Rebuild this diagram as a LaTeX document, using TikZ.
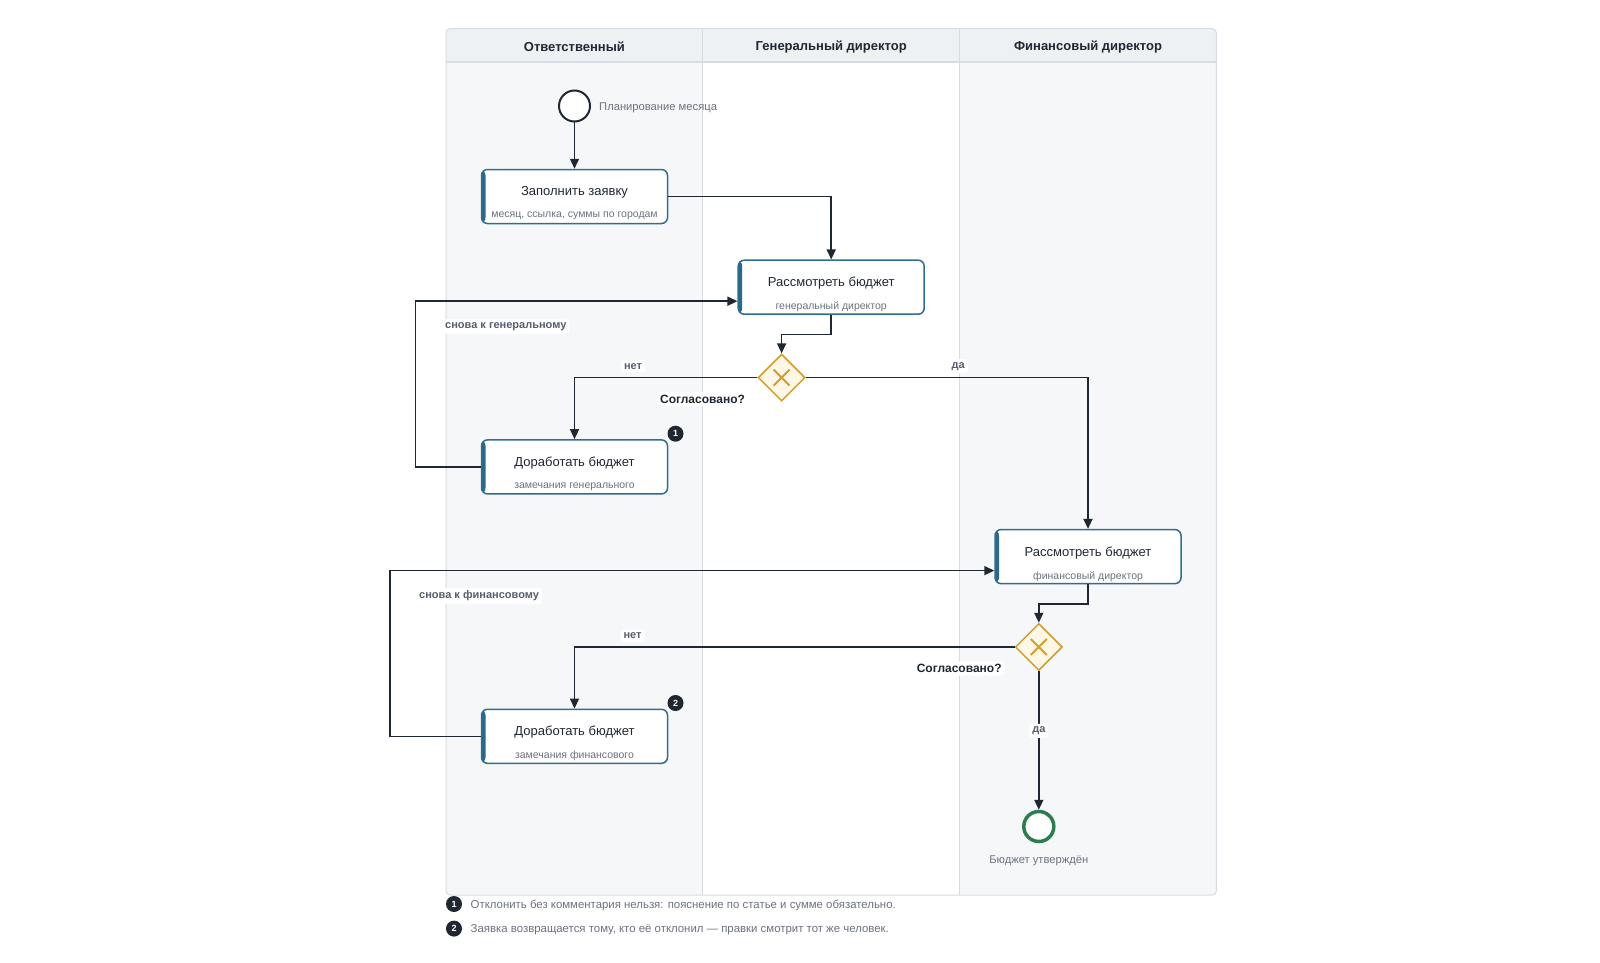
\documentclass[tikz,border=0pt]{standalone}
\usepackage{fontspec}
\setmainfont{Liberation Sans}
\usetikzlibrary{arrows.meta}
\usetikzlibrary{shapes.geometric}
\usetikzlibrary{positioning}

\definecolor{laneGrey}{HTML}{F6F7F9}
\definecolor{headGrey}{HTML}{EEF1F4}
\definecolor{lineGrey}{HTML}{D8DCE2}
\definecolor{taskBlue}{HTML}{2F6E8E}
\definecolor{barBlue}{HTML}{2A6788}
\definecolor{inkDark}{HTML}{1F2733}
\definecolor{textGrey}{HTML}{6B7280}
\definecolor{lblGrey}{HTML}{555F6D}
\definecolor{gwGold}{HTML}{D19E2B}
\definecolor{gwFill}{HTML}{FFF7E6}
\definecolor{endGreen}{HTML}{2B7D4B}

\tikzset{
  lanehead/.style={font=\fontsize{13}{15}\selectfont\bfseries, text=inkDark},
  task/.style={draw=taskBlue, line width=1.5pt, fill=white, rounded corners=6pt,
    minimum width=186pt, minimum height=54pt, inner sep=0pt,
    path picture={\fill[barBlue] (path picture bounding box.north west)
      rectangle ([xshift=4pt]path picture bounding box.south west);}},
  ttl/.style={font=\fontsize{13}{15}\selectfont, text=inkDark, inner sep=1pt},
  sub/.style={font=\fontsize{10.5}{12}\selectfont, text=textGrey, inner sep=1pt},
  gateway/.style={diamond, aspect=1, minimum width=47pt, minimum height=47pt,
    inner sep=0pt, draw=gwGold, fill=gwFill, line width=1.5pt,
    path picture={\draw[gwGold, line width=2pt]
      ([shift={(-8pt,-8pt)}]path picture bounding box.center) -- ([shift={(8pt,8pt)}]path picture bounding box.center)
      ([shift={(-8pt,8pt)}]path picture bounding box.center) -- ([shift={(8pt,-8pt)}]path picture bounding box.center);}},
  startev/.style={circle, draw=inkDark, line width=2pt, fill=white, minimum size=31pt, inner sep=0pt},
  endev/.style={circle, draw=endGreen, line width=3.5pt, fill=white, minimum size=30pt, inner sep=0pt},
  evtext/.style={font=\fontsize{11.2}{13}\selectfont, text=textGrey, inner sep=1pt},
  badge/.style={circle, fill=inkDark, text=white, font=\fontsize{9}{10}\selectfont\bfseries,
    minimum size=16pt, inner sep=0pt},
  note/.style={font=\fontsize{11.4}{13}\selectfont, text=textGrey, inner sep=1pt},
  flow/.style={draw=inkDark, line width=1.5pt, -{Triangle[length=10pt,width=9pt]}},
  edgelbl/.style={fill=white, rounded corners=3pt, font=\fontsize{11}{13}\selectfont\bfseries,
    text=lblGrey, inner sep=3pt},
  decision/.style={fill=white, rounded corners=3pt, font=\fontsize{12}{14}\selectfont\bfseries,
    text=inkDark, inner sep=3pt}
}

\begin{document}
\begin{tikzpicture}[x=1pt,y=-1pt]
  \useasboundingbox (0,0) rectangle (1600,963);
  \fill[white] (0,0) rectangle (1600,963);

  % pool and lanes
  \begin{scope}
    \clip[rounded corners=4pt] (446,28.6) rectangle (1216.3,895);
    \fill[laneGrey] (446,28.6) rectangle (702.8,895);
    \fill[laneGrey] (959.5,28.6) rectangle (1216.3,895);
    \fill[headGrey] (446,28.6) rectangle (1216.3,62.2);
  \end{scope}
  \draw[lineGrey, line width=1.5pt] (446,62.2) -- (1216.3,62.2);
  \draw[lineGrey, line width=1pt] (702.8,28.6) -- (702.8,895);
  \draw[lineGrey, line width=1pt] (959.5,28.6) -- (959.5,895);
  \draw[lineGrey, line width=1pt, rounded corners=4pt] (446,28.6) rectangle (1216.3,895);

  \node[lanehead] (hResp) at (574.4,46.8) {Ответственный};
  \node[lanehead] (hGen) at (831.2,46.8) {Генеральный директор};
  \node[lanehead] (hFin) at (1088,46.8) {Финансовый директор};

  % events
  \node[startev] (start) at (574.5,106) {};
  \node[evtext, anchor=west] (startT) at (598,108) {Планирование месяца};
  \node[endev] (end) at (1038.8,826.5) {};
  \node[evtext] (endT) at (1038.8,861) {Бюджет утверждён};

  % tasks
  \node[task] (fill) at (574.5,196.5) {};
  \node[ttl] (fillT) at (574.5,192.5) {Заполнить заявку};
  \node[sub] (fillS) at (574.5,216.2) {месяц, ссылка, суммы по городам};

  \node[task] (revGen) at (831.2,287.2) {};
  \node[ttl] (revGenT) at (831.2,283.2) {Рассмотреть бюджет};
  \node[sub] (revGenS) at (831.2,306.9) {генеральный директор};

  \node[task] (fixGen) at (574.5,466.9) {};
  \node[ttl] (fixGenT) at (574.5,462.9) {Доработать бюджет};
  \node[sub] (fixGenS) at (574.5,486.6) {замечания генерального};
  \node[badge] (b1) at (675.5,433.7) {1};

  \node[task] (revFin) at (1088,556.6) {};
  \node[ttl] (revFinT) at (1088,552.6) {Рассмотреть бюджет};
  \node[sub] (revFinS) at (1088,576.3) {финансовый директор};

  \node[task] (fixFin) at (574.5,736.3) {};
  \node[ttl] (fixFinT) at (574.5,732.3) {Доработать бюджет};
  \node[sub] (fixFinS) at (574.5,756) {замечания финансового};
  \node[badge] (b2) at (675.5,703) {2};

  % gateways
  \node[gateway] (gw1) at (781.6,377.6) {};
  \node[gateway] (gw2) at (1038.8,647) {};

  % flows
  \draw[flow] (start) -- (fill);
  \draw[flow] (fill.east) -| (revGen.north);
  \draw[flow] (revGen.south) -- ++(0,19.4) -| (gw1.north);
  \draw[flow] (gw1.west) -| (fixGen.north) node[edgelbl, pos=0.34, above=4.5pt] (noGen) {нет};
  \draw[flow] (gw1.east) -| (revFin.north) node[edgelbl, pos=0.27, above=3.5pt] (yesGen) {да};
  \draw[flow] (fixGen.west) -- ++(-65.3,0) |- ([yshift=-14pt]revGen.west);
  \draw[flow] (revFin.south) -- ++(0,19.4) -| (gw2.north);
  \draw[flow] (gw2.west) -| (fixFin.north) node[edgelbl, pos=0.434, above=4.5pt] (noFin) {нет};
  \draw[flow] (fixFin.west) -- ++(-90.8,0) |- ([yshift=-14pt]revFin.west);
  \draw[flow] (gw2.south) -- (end.north) node[edgelbl, pos=0.43] (yesFin) {да};

  \node[edgelbl, anchor=west] (againGen) at (442,326.5) {снова к генеральному};
  \node[edgelbl, anchor=west] (againFin) at (416,595.9) {снова к финансовому};
  \node[decision] (gw1T) at (702.5,399) {Согласовано?};
  \node[decision] (gw2T) at (959.2,668.4) {Согласовано?};

  % notes
  \node[badge] (n1) at (454,904) {1};
  \node[note, anchor=west] (n1T) at (469.5,905) {Отклонить без комментария нельзя: пояснение по статье и сумме обязательно.};
  \node[badge] (n2) at (454,928.6) {2};
  \node[note, anchor=west] (n2T) at (469.5,929.6) {Заявка возвращается тому, кто её отклонил — правки смотрит тот же человек.};
\end{tikzpicture}
\end{document}
